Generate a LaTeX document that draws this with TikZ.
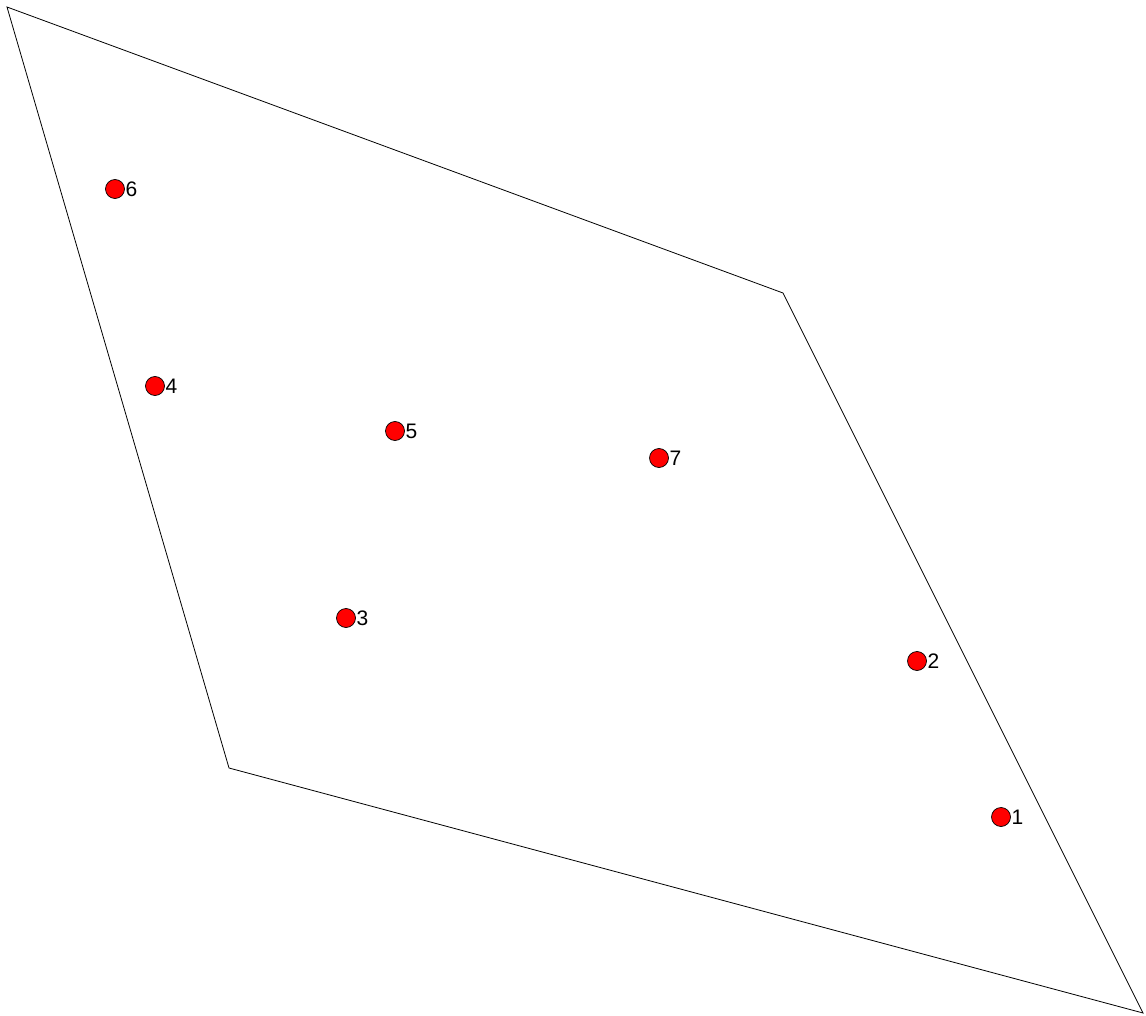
\documentclass[tikz,border=0pt]{standalone}
\usepackage{fontspec}
\setmainfont{Liberation Sans}
\usepackage{xcolor}
\usetikzlibrary{positioning}

\begin{document}
\begin{tikzpicture}[
  x=1pt, y=-1pt,
  site/.style={circle, draw=black, fill=red, line width=0.7pt,
    minimum size=19pt, inner sep=0pt},
  sitelabel/.style={right=0.5pt of #1, inner sep=0pt, font=\fontsize{21}{24}\selectfont}
]
\useasboundingbox (0,0) rectangle (1146,1016);

% outline
\coordinate (tl) at (7,7);
\coordinate (tr) at (783,293);
\coordinate (br) at (1143,1013);
\coordinate (bl) at (229,768);
\draw[line width=0.8pt] (tl) -- (tr) -- (br) -- (bl) -- cycle;

% points
\node[site] (p1) at (1001,817) {};
\node[site] (p2) at (917,661) {};
\node[site] (p3) at (346,618) {};
\node[site] (p4) at (155,386) {};
\node[site] (p5) at (395,431) {};
\node[site] (p6) at (115,189) {};
\node[site] (p7) at (659,458) {};

\node[sitelabel=p1] (l1) {1};
\node[sitelabel=p2] (l2) {2};
\node[sitelabel=p3] (l3) {3};
\node[sitelabel=p4] (l4) {4};
\node[sitelabel=p5] (l5) {5};
\node[sitelabel=p6] (l6) {6};
\node[sitelabel=p7] (l7) {7};
\end{tikzpicture}
\end{document}
